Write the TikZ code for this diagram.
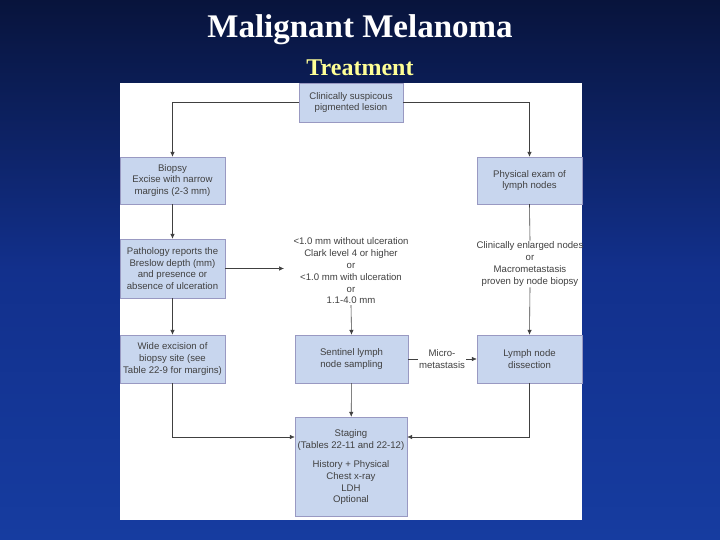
\documentclass[tikz,border=0pt]{standalone}
\usepackage{fontspec}
\usetikzlibrary{arrows.meta}
\setmainfont{Liberation Serif}
\newfontfamily\sff{Liberation Sans}
\begin{document}
\begin{tikzpicture}[x=1pt,y=-1pt,
  box/.style={draw=black!60!blue!40, fill={rgb,255:red,200;green,214;blue,238}, inner sep=0pt, align=center, font=\sff\fontsize{9.6}{11.8}\selectfont, text=black!75},
  lbl/.style={align=center, font=\sff\fontsize{9.6}{11.8}\selectfont, text=black!75, inner sep=1pt},
  ar/.style={draw=black!75, line width=0.6pt, -{Latex[length=5pt,width=4.5pt]}},
  ln/.style={draw=black!75, line width=0.6pt}]
\useasboundingbox (0,0) rectangle (720,540);
\shade[top color={rgb,255:red,8;green,20;blue,60}, bottom color={rgb,255:red,22;green,60;blue,160}, middle color={rgb,255:red,18;green,48;blue,140}] (0,0) rectangle (720,540);
\node[font=\bfseries\fontsize{33}{36}\selectfont, text=white] (title) at (360,30) {Malignant Melanoma};
\node[font=\bfseries\fontsize{24}{26}\selectfont, text={rgb,255:red,255;green,255;blue,150}] (sub) at (360,68) {Treatment};
\fill[white] (120,83) rectangle (582,520);
\node[box, minimum width=104, minimum height=39] (top) at (351,102.5) {Clinically suspicous\\pigmented lesion};
\node[box, minimum width=105, minimum height=47] (bio) at (172.5,180.5) {Biopsy\\Excise with narrow\\margins (2-3 mm)};
\node[box, minimum width=105, minimum height=47] (phy) at (529.5,180.5) {Physical exam of\\lymph nodes};
\node[box, minimum width=105, minimum height=59] (pat) at (172.5,268.5) {Pathology reports the\\Breslow depth (mm)\\and presence or\\absence of ulceration};
\node[lbl] (crit) at (351,271) {<1.0 mm without ulceration\\Clark level 4 or higher\\or\\<1.0 mm with ulceration\\or\\1.1-4.0 mm};
\node[lbl] (enl) at (530,264) {Clinically enlarged nodes\\or\\Macrometastasis\\proven by node biopsy};
\node[box, minimum width=105, minimum height=48] (wide) at (172.5,359) {Wide excision of\\biopsy site (see\\Table 22-9 for margins)};
\node[box, minimum width=113, minimum height=48] (sen) at (351.5,359) {Sentinel lymph\\node sampling};
\node[box, minimum width=105, minimum height=48] (lym) at (529.5,359) {Lymph node\\dissection};
\node[lbl] (mic) at (442,359) {Micro-\\metastasis};
\node[box, minimum width=112, minimum height=99, text depth=0pt] (sta) at (351,466.5) {Staging\\(Tables 22-11 and 22-12)\\[7pt]History + Physical\\Chest x-ray\\LDH\\Optional};
\draw[ar] (top.west) -| (bio.north);
\draw[ar] (top.east) -| (phy.north);
\draw[ar] (bio) -- (pat);
\draw[ar] (pat) -- (wide);
\draw[ar] (pat.east) -- (284,268.5) coordinate (pe);
\draw[ar] (crit.south) -- (sen.north);
\draw[ln] (phy.south) -- (enl.north);
\draw[ar] (enl.south) -- (lym.north);
\draw[ln] (sen.east) -- (mic.west);
\draw[ar] (mic.east) -- (lym.west);
\draw[ar] (sen) -- (sta);
\draw[ar] (wide.south) |- (sta.west |- 0,437);
\draw[ar] (lym.south) |- (sta.east |- 0,437);
\end{tikzpicture}
\end{document}
